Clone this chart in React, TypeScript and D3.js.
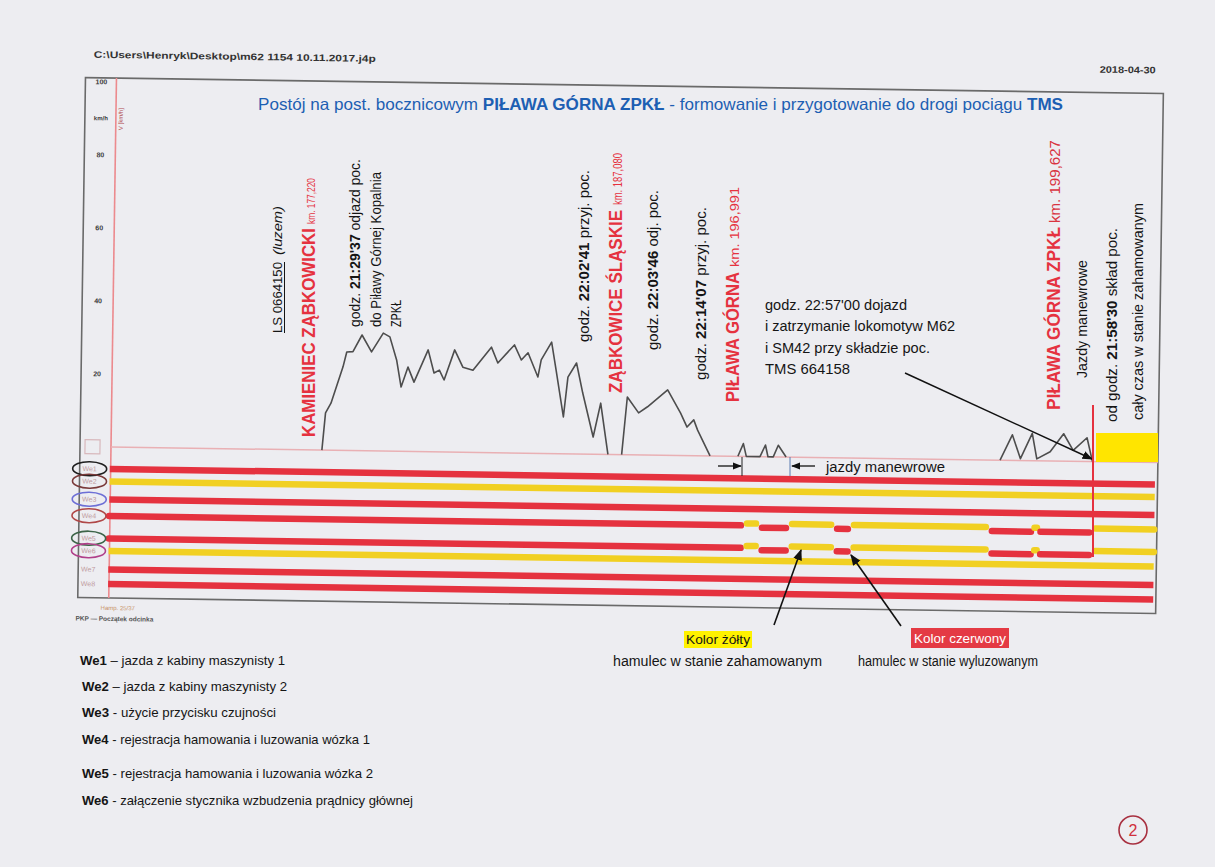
import React from 'react';
import * as d3 from 'd3';

// ---------- DATA ----------
// time axis: minutes after 21:00
const runTimes = [29.85, 30.2, 30.8, 32.1, 32.5, 33.2, 34.2, 35.3, 36.6, 37.35, 38.15, 38.7, 39.45, 40.15, 41.7, 42.4, 43.0, 43.55, 44.7, 45.65, 46.8, 48.85, 49.6, 51.45, 52.25, 53.0, 54.15, 54.5, 55.65, 56.2, 57.1, 57.55, 58.5, 59.25, 60.5, 61.3, 62.2];
const runSpeeds = [0, 10.2, 12.9, 22.9, 27.0, 27.1, 31.7, 27.1, 32.3, 31.3, 25.0, 17.6, 23.1, 19.0, 27.9, 21.6, 22.4, 19.7, 28.0, 23.3, 22.5, 28.9, 24.6, 29.6, 25.5, 27.5, 20.9, 25.6, 30.5, 22.9, 10.1, 21.0, 24.9, 16.7, 4.7, 14.0, 0];
const run2Times = [63.75, 64.3, 65.6, 66.6, 68.85, 70.35, 71.1, 71.85, 72.3, 73.75];
const run2Speeds = [0, 15.8, 11.5, 13.2, 17.9, 11.6, 7.8, 9.8, 7.0, 0];
const shunt1Times = [76.9, 77.5, 77.85, 79.4, 80.0, 80.3, 80.9, 81.45, 82.35];
const shunt1Speeds = [0, 3.5, 0, 0, 3.2, 0, 0, 3.2, 0];
const shunt2Times = [106.55, 107.9, 108.85, 110.15, 110.7, 112.2, 113.7, 114.8, 116.35, 117.0];
const shunt2Speeds = [0, 7.0, 0.5, 7.5, 0.5, 2.5, 7.5, 3.0, 6.5, 0];

const speedTicks = [20, 40, 60, 80, 100];

const channelNames = ['We1', 'We2', 'We3', 'We4', 'We5', 'We6', 'We7', 'We8'];
const channelActive = [false, true, false, false, false, true, false, false];
// brake applied (yellow) intervals on We4 / We5
const brakeOnStart = [77.7, 82.8, 89.8, 110.5, 117.1];
const brakeOnEnd = [79.4, 87.9, 105.4, 110.9, 124.1];
const brakeChannels = ['We4', 'We5'];

const legendItems = [
  ['We1', ' – jazda z kabiny maszynisty  1'],
  ['We2', ' – jazda z kabiny maszynisty  2'],
  ['We3', ' -  użycie przycisku czujności'],
  ['We4', ' -  rejestracja hamowania i luzowania wózka 1'],
  ['We5', ' -  rejestracja hamowania i luzowania wózka 2'],
  ['We6', ' -  załączenie stycznika wzbudzenia prądnicy głównej'],
];

const NARROW = "'Liberation Sans Narrow','Arial Narrow','Liberation Sans',Arial,sans-serif";
const RED = '#e5323f';
const YELLOW = '#f1d022';
const BG = '#ededf1';

type VP = { x: number; y: number; len: number; size: number; weight?: any; fill?: string; italic?: boolean; underline?: boolean; children: any };
const VText = ({ x, y, len, size, weight = 'normal', fill = '#151515', italic = false, underline = false, children }: VP) => (
  <g transform={`translate(${x},${y}) rotate(-90)`}>
    <text x={0} y={0} fontSize={size} fontWeight={weight} fill={fill} fontStyle={italic ? 'italic' : 'normal'}
      textLength={len} lengthAdjust="spacingAndGlyphs" fontFamily={NARROW}>{children}</text>
    {underline && <line x1={0} x2={len} y1={2.5} y2={2.5} stroke={fill} strokeWidth={1} />}
  </g>
);

type HP = { x: number; y: number; len: number; size: number; weight?: any; fill?: string; children: any };
const HText = ({ x, y, len, size, weight = 'normal', fill = '#151515', children }: HP) => (
  <text x={x} y={y} fontSize={size} fontWeight={weight} fill={fill} textLength={len}
    lengthAdjust="spacingAndGlyphs" fontFamily={NARROW}>{children}</text>
);

export default function App() {
  const T0 = 5.9, T1 = 124.1;
  const x = d3.scaleLinear().domain([6, 124.4]).range([111, 1158]);
  const y = d3.scaleLinear().domain([0, 100]).range([447, 82]);
  const line = d3.line<[number, number]>().x(d => x(d[0])).y(d => y(d[1]));
  const traces = [
    [runTimes, runSpeeds], [run2Times, run2Speeds], [shunt1Times, shunt1Speeds], [shunt2Times, shunt2Speeds],
  ].map(([t, s]) => line(t.map((ti, i) => [ti, s[i]] as [number, number])) as string);

  const rowY = [469, 481.5, 499.5, 516, 538.5, 551, 569.5, 584];
  const ellipseColors = ['#1e1e1e', '#7a3a3a', '#6d6fd6', '#b04848', '#3d6448', '#b0408a'];

  const rows = channelNames.map((name, ci) => {
    const segs: { a: number; b: number; on: boolean }[] = [];
    if (brakeChannels.includes(name)) {
      let cur = T0;
      brakeOnStart.forEach((s, i) => {
        if (s > cur) segs.push({ a: cur, b: s, on: false });
        segs.push({ a: s, b: brakeOnEnd[i], on: true });
        cur = brakeOnEnd[i];
      });
      if (cur < T1) segs.push({ a: cur, b: T1, on: false });
    } else {
      segs.push({ a: T0, b: T1, on: channelActive[ci] });
    }
    return { name, segs, brake: brakeChannels.includes(name) };
  });

  const skew = 0.85;

  return (
    <svg width={1215} height={867} style={{ position: 'absolute', left: 0, top: 0 }} xmlns="http://www.w3.org/2000/svg">
      <defs>
        <marker id="ah" viewBox="0 0 10 10" refX="9" refY="5" markerWidth="7" markerHeight="7" orient="auto-start-reverse">
          <path d="M0,1 L10,5 L0,9 z" fill="#111" />
        </marker>
      </defs>
      <rect x={0} y={0} width={1215} height={867} fill={BG} />

      {/* ---------- screenshot (slightly skewed scan) ---------- */}
      <g transform={`rotate(${skew},111,447)`}>
        <text x={88} y={58} fontSize={9.5} fontWeight="bold" fill="#333" fontFamily="'Liberation Sans',Arial,sans-serif"
          textLength={282} lengthAdjust="spacingAndGlyphs">C:\Users\Henryk\Desktop\m62 1154 10.11.2017.j4p</text>
        <text x={1094} y={58} fontSize={9.5} fontWeight="bold" fill="#333" fontFamily="'Liberation Sans',Arial,sans-serif"
          textLength={56} lengthAdjust="spacingAndGlyphs">2018-04-30</text>

        <rect x={80} y={78} width={1078} height={520} fill="none" stroke="#6a6a6a" strokeWidth={1.6} />
        <line x1={111} x2={111} y1={78} y2={598} stroke="#ec8a8e" strokeWidth={1.6} />
        <line x1={111} x2={1158} y1={y(0)} y2={y(0)} stroke="#e9b0b4" strokeWidth={1.5} />
        <rect x={85} y={440} width={15} height={14} fill="none" stroke="#d8b8bc" strokeWidth={1.2} />

        {speedTicks.map(t => (
          <text key={t} x={96} y={y(t) + 2.5} fontSize={7} fontWeight="bold" fill="#3a3a3a" textAnchor="middle"
            fontFamily="'Liberation Sans',Arial,sans-serif">{t}</text>
        ))}
        <text x={96} y={y(90) + 2} fontSize={6} fontWeight="bold" fill="#3a3a3a" textAnchor="middle"
          fontFamily="'Liberation Sans',Arial,sans-serif">km/h</text>
        <g transform={`translate(118,130) rotate(-90)`}>
          <text x={0} y={0} fontSize={6} fill="#b04a50" fontFamily="'Liberation Sans',Arial,sans-serif">V [km/h]</text>
        </g>

        {traces.map((d, i) => (
          <path key={i} d={d} fill="none" stroke="#4d4d4d" strokeWidth={1.6} strokeLinejoin="round" />
        ))}

        {rows.map((r, ri) => {
          const yy = rowY[ri];
          return (
            <g key={r.name}>
              {r.segs.map((s, si) => {
                const inA = si > 0 ? 3 : 0;
                const inB = si < r.segs.length - 1 ? 3 : 0;
                let off = 0;
                if (r.brake) off = s.on ? -2 : (si > 0 ? 2 : 0);
                return (
                  <line key={si} x1={x(s.a) + inA} x2={x(s.b) - inB} y1={yy + off} y2={yy + off}
                    stroke={s.on ? YELLOW : RED} strokeWidth={6.5} strokeLinecap={r.segs.length > 1 ? 'round' : 'butt'} />
                );
              })}
            </g>
          );
        })}

        {channelNames.map((n, i) => (
          <g key={n}>
            <text x={90} y={rowY[i] + 2.5} fontSize={7} fill="#c09a9e" textAnchor="middle"
              fontFamily="'Liberation Sans',Arial,sans-serif">{n}</text>
            {i < 6 && <ellipse cx={90} cy={rowY[i]} rx={17} ry={7} fill="none" stroke={ellipseColors[i]} strokeWidth={1.6} />}
          </g>
        ))}

        <text x={103} y={610} fontSize={6} fill="#c8926a" fontFamily="'Liberation Sans',Arial,sans-serif">Hamp. 25/37</text>
        <text x={78} y={621} fontSize={6.5} fill="#555" fontWeight="bold" fontFamily="'Liberation Sans',Arial,sans-serif">PKP — Początek odcinka</text>
      </g>

      {/* ---------- overlays ---------- */}
      <text x={258} y={110} fontSize={16.5} fill="#1d5fb3" fontFamily={NARROW} textLength={805} lengthAdjust="spacingAndGlyphs">
        Postój na post. bocznicowym <tspan fontWeight="bold">PIŁAWA GÓRNA ZPKŁ</tspan> - formowanie i przygotowanie do drogi  pociągu <tspan fontWeight="bold">TMS</tspan>
      </text>

      <VText x={282} y={333} len={71} size={13} underline>LS 0664150</VText>
      <VText x={282} y={255} len={49} size={13} italic>(luzem)</VText>

      <VText x={315} y={437} len={209} size={19} weight="bold" fill={RED}>KAMIENIEC ZĄBKOWICKI</VText>
      <VText x={315} y={224} len={46} size={11} fill={RED}>km. 177,220</VText>

      <VText x={360} y={327} len={168} size={15}>godz.  <tspan fontWeight="bold">21:29'37</tspan>  odjazd poc.</VText>
      <VText x={381} y={327} len={155} size={15}>do Piławy  Górnej Kopalnia</VText>
      <VText x={401} y={327} len={27} size={15}>ZPKŁ</VText>

      <VText x={589} y={342} len={172} size={15}>godz.  <tspan fontWeight="bold">22:02'41</tspan>  przyj. poc.</VText>
      <VText x={622} y={393} len={183} size={18} weight="bold" fill={RED}>ZĄBKOWICE ŚLĄSKIE</VText>
      <VText x={622} y={205} len={52} size={12} fill={RED}>km. 187,080</VText>
      <VText x={658} y={350} len={160} size={15}>godz.  <tspan fontWeight="bold">22:03'46</tspan>  odj. poc.</VText>
      <VText x={706} y={380} len={173} size={15}>godz.  <tspan fontWeight="bold">22:14'07</tspan>  przyj. poc.</VText>
      <VText x={739} y={402} len={130} size={18} weight="bold" fill={RED}>PIŁAWA GÓRNA</VText>
      <VText x={739} y={267} len={80} size={13} fill={RED}>km. 196,991</VText>

      <VText x={1060} y={410} len={183} size={18} weight="bold" fill={RED}>PIŁAWA GÓRNA ZPKŁ</VText>
      <VText x={1060} y={223} len={83} size={14} fill="#d9343f">km. 199,627</VText>
      <VText x={1087} y={378} len={118} size={15}>Jazdy manewrowe</VText>
      <VText x={1117} y={422} len={194} size={15}>od godz.  <tspan fontWeight="bold">21:58'30</tspan>  skład poc.</VText>
      <VText x={1143} y={420} len={217} size={15}>cały czas w stanie zahamowanym</VText>

      <HText x={765} y={310} len={142} size={15}>godz. 22:57'00 dojazd</HText>
      <HText x={765} y={331} len={190} size={15}>i zatrzymanie lokomotyw M62</HText>
      <HText x={765} y={353} len={165} size={15}>i SM42 przy składzie poc.</HText>
      <HText x={765} y={374} len={85} size={15}>TMS 664158</HText>
      <line x1={905} y1={373} x2={1092} y2={459} stroke="#111" strokeWidth={1.5} markerEnd="url(#ah)" />

      <rect x={1096} y={433} width={62} height={29} fill="#ffe500" />
      <line x1={1093} x2={1093} y1={405} y2={557} stroke="#e5323f" strokeWidth={2} />

      {/* jazdy manewrowe marks */}
      <line x1={718} y1={466} x2={741} y2={466} stroke="#111" strokeWidth={1.3} markerEnd="url(#ah)" />
      <line x1={742} y1={457} x2={742} y2={476} stroke="#222" strokeWidth={1} />
      <line x1={815} y1={466} x2={792} y2={466} stroke="#111" strokeWidth={1.3} markerEnd="url(#ah)" />
      <line x1={790} y1={457} x2={790} y2={476} stroke="#5a7ab0" strokeWidth={1} />
      <HText x={826} y={472} len={119} size={14}>jazdy manewrowe</HText>

      {/* colour legend */}
      <line x1={774} y1={625} x2={801} y2={550} stroke="#111" strokeWidth={1.6} markerEnd="url(#ah)" />
      <line x1={901} y1={626} x2={851} y2={555} stroke="#111" strokeWidth={1.6} markerEnd="url(#ah)" />
      <rect x={684} y={631} width={68} height={17} fill="#fff200" />
      <HText x={686} y={644} len={64} size={13}>Kolor żółty</HText>
      <HText x={613} y={666} len={209} size={14}>hamulec w stanie zahamowanym</HText>
      <rect x={911} y={628} width={98} height={20} fill="#e43a44" />
      <HText x={914} y={643} len={92} size={13} fill="#ffffff">Kolor czerwony</HText>
      <HText x={858} y={666} len={180} size={14}>hamulec w stanie wyluzowanym</HText>

      {/* channel legend */}
      {legendItems.map(([k, t], i) => {
        const ys = [665, 691, 717, 744, 778, 805];
        const lens = [205, 205, 194, 288, 291, 331];
        return (
          <text key={k} x={i === 0 ? 80 : 82} y={ys[i]} fontSize={13} fill="#151515" fontFamily={NARROW}
            textLength={lens[i]} lengthAdjust="spacingAndGlyphs">
            <tspan fontWeight="bold">{k}</tspan>{t}
          </text>
        );
      })}

      <circle cx={1133} cy={830} r={14} fill="none" stroke="#a83040" strokeWidth={1.6} />
      <text x={1133} y={836} fontSize={16} fill="#d0303c" textAnchor="middle" fontFamily="'Liberation Sans',Arial,sans-serif">2</text>
    </svg>
  );
}
